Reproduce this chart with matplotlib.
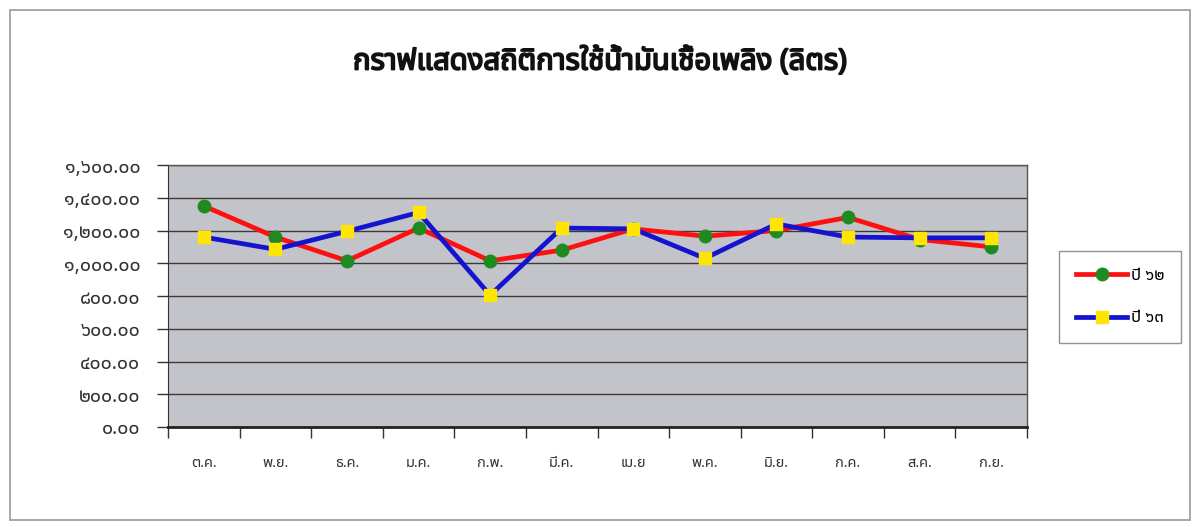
import matplotlib
matplotlib.use("Agg")
import matplotlib.pyplot as plt
from matplotlib import font_manager, ft2font
from matplotlib.patches import Rectangle
import matplotlib.patheffects as pe

# ข้อมูลการใช้น้ำมันเชื้อเพลิง (ลิตร) อ่านค่าจากกราฟ
months = ["ต.ค.", "พ.ย.", "ธ.ค.", "ม.ค.", "ก.พ.", "มี.ค.",
          "เม.ย", "พ.ค.", "มิ.ย.", "ก.ค.", "ส.ค.", "ก.ย."]
y62 = [1350, 1160, 1015, 1215, 1015, 1080, 1210, 1165, 1200, 1280, 1145, 1100]
y63 = [1160, 1085, 1195, 1310, 805, 1215, 1210, 1030, 1240, 1160, 1155, 1155]
y_ticks = [0, 200, 400, 600, 800, 1000, 1200, 1400, 1600]
y_ticklabels = ["๐.๐๐", "๒๐๐.๐๐", "๔๐๐.๐๐", "๖๐๐.๐๐", "๘๐๐.๐๐",
                "๑,๐๐๐.๐๐", "๑,๒๐๐.๐๐", "๑,๔๐๐.๐๐", "๑,๖๐๐.๐๐"]
series_names = ["ปี ๖๒", "ปี ๖๓"]


# หา font ที่มีตัวอักษรไทย
def find_thai_font():
    names = []
    for f in font_manager.fontManager.ttflist:
        try:
            cmap = ft2font.FT2Font(f.fname).get_charmap()
        except Exception:
            continue
        if 0x0E01 in cmap and 0x0E52 in cmap:
            names.append(f.name)
    pref = ["Noto Sans Thai", "Tahoma", "Loma", "Garuda", "Norasi"]
    for p in pref:
        if p in names:
            return p
    return names[0] if names else "DejaVu Sans"


thai = find_thai_font()
plt.rcParams["font.family"] = [thai, "DejaVu Sans"]

fig = plt.figure(figsize=(12.02, 5.27), dpi=100)
fig.patches.append(Rectangle((10 / 1202, 7 / 527), 1180 / 1202, 510 / 527,
                             transform=fig.transFigure, fill=False,
                             edgecolor="#9a9a9a", linewidth=1.2))

ax = fig.add_axes([168 / 1202, 1 - 427 / 527, 859 / 1202, 262 / 527])
ax.set_facecolor("#c3c3ca")

x = list(range(len(months)))
ax.plot(x, y62, color="#ff1010", linewidth=3.4, marker="o", markersize=9,
        markerfacecolor="#1f8a1f", markeredgecolor="#1f8a1f", label=series_names[0], zorder=3)
ax.plot(x, y63, color="#1414d0", linewidth=3.4, marker="s", markersize=9,
        markerfacecolor="#ffe600", markeredgecolor="#ffe600", label=series_names[1], zorder=4)

ax.set_xlim(-0.5, len(months) - 0.5)
ax.set_ylim(0, 1600)
ax.set_yticks(y_ticks)
ax.set_yticklabels(y_ticklabels, fontsize=14, color="#333333")
ax.set_xticks(x)
ax.set_xticklabels(months, fontsize=10.5, color="#333333")
ax.set_xticks([i + 0.5 for i in range(-1, len(months))], minor=True)
ax.tick_params(axis="x", which="major", length=0, pad=21)
ax.tick_params(axis="x", which="minor", length=8, width=1, color="#333333")
ax.tick_params(axis="y", length=8, width=1, color="#333333", pad=12)
ax.grid(axis="y", color="#3a3a3a", linewidth=1)
ax.set_axisbelow(True)
for side in ["top", "right"]:
    ax.spines[side].set_color("#555555")
    ax.spines[side].set_linewidth(1)
ax.spines["left"].set_color("#333333")
ax.spines["bottom"].set_color("#222222")
ax.spines["bottom"].set_linewidth(2)

title = fig.text(600 / 1202, 1 - 62 / 527, "กราฟแสดงสถิติการใช้น้ำมันเชื้อเพลิง (ลิตร)",
                 ha="center", va="center", fontsize=21, fontweight="bold", color="#111111")
title.set_path_effects([pe.withStroke(linewidth=1.3, foreground="#111111")])

leg = fig.legend(loc="center", bbox_to_anchor=(1120 / 1202, 1 - 297 / 527),
                 fontsize=12, handlelength=3.1, frameon=True, fancybox=False,
                 edgecolor="#777777", labelspacing=1.6, borderpad=1.0, handletextpad=0.2)
leg.get_frame().set_linewidth(1)

plt.savefig("out.png", dpi=100, facecolor="white")
